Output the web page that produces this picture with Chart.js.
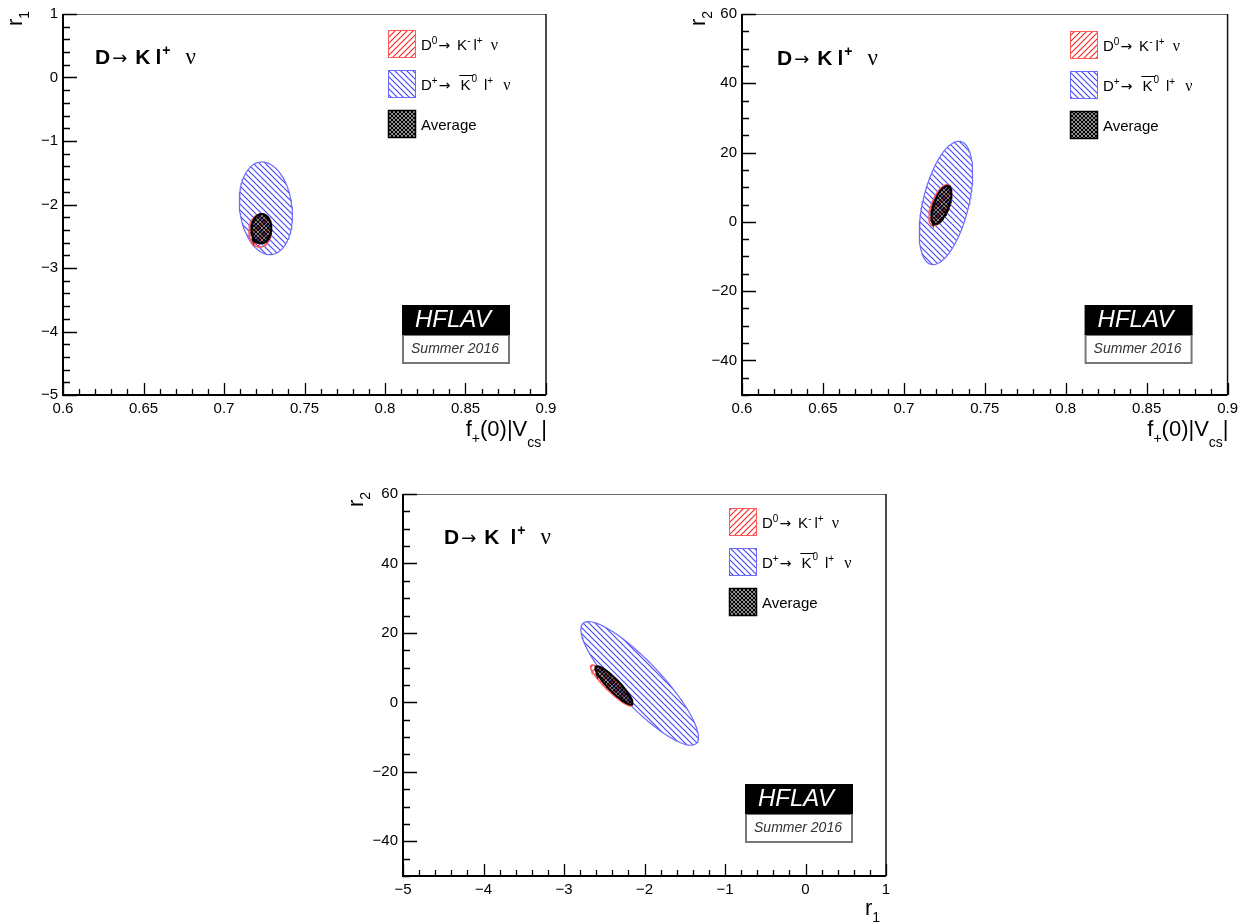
<!DOCTYPE html>
<html>
<head>
<meta charset="utf-8">
<title>D -> K l nu form factor contours</title>
<script src="https://cdn.jsdelivr.net/npm/chart.js@4.4.1/dist/chart.umd.min.js"></script>
<style>
  html, body { margin: 0; padding: 0; background: #fff; }
  body { width: 1243px; height: 922px; position: relative; overflow: hidden; }
  canvas { position: absolute; }
</style>
</head>
<body>
<canvas id="c1" width="620" height="460" style="left:0;top:0"></canvas>
<canvas id="c2" width="623" height="460" style="left:620px;top:0"></canvas>
<canvas id="c3" width="590" height="456" style="left:330px;top:466px"></canvas>
<script>
// order of the series: D0 -> K- l+ nu, D+ -> K0bar l+ nu, average
const SERIES = ["d0", "dplus", "avg"];

// contour centres and half-extents
const F_CENTRE  = [0.7225, 0.7260, 0.7232];
const F_HALF    = [0.0070, 0.0165, 0.0062];
const R1_CENTRE = [-2.41, -2.06, -2.38];
const R1_HALF   = [0.26, 0.73, 0.23];
const R2_CENTRE = [4.85, 5.45, 4.9];
const R2_HALF   = [5.9, 17.8, 5.5];

// tilt of each contour (correlation between the two variables)
const CORR_F_R1  = [0.05, -0.15, 0.05];
const CORR_F_R2  = [0.60, 0.48, 0.60];
const CORR_R1_R2 = [-0.92, -0.87, -0.90];

const F_TICKS  = [0.6, 0.65, 0.7, 0.75, 0.8, 0.85, 0.9];
const R1_TICKS = [-5, -4, -3, -2, -1, 0, 1];
const R2_TICKS = [-40, -20, 0, 20, 40, 60];

const VARS = {
  f:  { centre: F_CENTRE,  half: F_HALF },
  r1: { centre: R1_CENTRE, half: R1_HALF },
  r2: { centre: R2_CENTRE, half: R2_HALF },
};
const CORR = { "f,r1": CORR_F_R1, "f,r2": CORR_F_R2, "r1,r2": CORR_R1_R2 };

const SANS = '"Liberation Sans", Arial, Helvetica, sans-serif';
const SERIF = '"Liberation Serif", "Times New Roman", serif';
const ARROW = '"DejaVu Sans", sans-serif';

const STYLE = {
  d0:    { line: "#ff5a5a", hatch: "#ff2a2a", dir: 1,  width: 1.5, order: 2 },
  dplus: { line: "#6a6aff", hatch: "#4a4aff", dir: -1, width: 1.2, order: 3 },
  avg:   { line: "#000000", hatch: "#000000", dir: 0,  width: 2,   order: 1 },
};

function font(size, style) {
  return (style ? style + " " : "") + size + "px " + SANS;
}

function contour(cx, cy, hx, hy, rho) {
  const pts = [];
  const n = 120;
  for (let i = 0; i <= n; i++) {
    const t = (2 * Math.PI * i) / n;
    pts.push({
      x: cx + hx * Math.cos(t),
      y: cy + hy * (rho * Math.cos(t) + Math.sqrt(1 - rho * rho) * Math.sin(t)),
    });
  }
  return pts;
}

function makePattern(ctx, s) {
  const tile = document.createElement("canvas");
  const step = s.dir === 0 ? 4 : 6;
  tile.width = tile.height = step;
  const g = tile.getContext("2d");
  g.strokeStyle = s.hatch;
  g.lineWidth = s.dir === 0 ? 1.3 : 1.2;
  g.beginPath();
  if (s.dir >= 0) {
    g.moveTo(-1, step + 1); g.lineTo(step + 1, -1);
    g.moveTo(-1, 1); g.lineTo(1, -1);
    g.moveTo(step - 1, step + 1); g.lineTo(step + 1, step - 1);
  }
  if (s.dir <= 0) {
    g.moveTo(-1, -1); g.lineTo(step + 1, step + 1);
    g.moveTo(step - 1, -1); g.lineTo(step + 1, 1);
    g.moveTo(-1, step - 1); g.lineTo(1, step + 1);
  }
  g.stroke();
  return ctx.createPattern(tile, "repeat");
}

// rich text: list of segments {t, font, dy, gap, bar}
function drawRich(ctx, x, y, segs, align) {
  let w = 0;
  for (const s of segs) {
    ctx.font = s.font;
    w += (s.gap || 0) + ctx.measureText(s.t).width;
  }
  let cx = align === "right" ? x - w : align === "center" ? x - w / 2 : x;
  for (const s of segs) {
    cx += s.gap || 0;
    ctx.font = s.font;
    ctx.fillText(s.t, cx, y + (s.dy || 0));
    const sw = ctx.measureText(s.t).width;
    if (s.bar) {
      ctx.save();
      ctx.strokeStyle = ctx.fillStyle;
      ctx.lineWidth = 1;
      ctx.beginPath();
      ctx.moveTo(cx - 1, y - 14.5);
      ctx.lineTo(cx + sw + 3, y - 14.5);
      ctx.stroke();
      ctx.restore();
    }
    cx += sw;
  }
}

const LEGEND_LABELS = [
  [
    { t: "D", font: font(15) },
    { t: "0", font: font(10), dy: -6 },
    { t: "\u2192", font: "14px " + ARROW, gap: 1 },
    { t: "K", font: font(15), gap: 7 },
    { t: "-", font: font(10), dy: -6 },
    { t: "l", font: font(15), gap: 3 },
    { t: "+", font: font(10), dy: -6 },
    { t: "\u03bd", font: "16px " + SERIF, gap: 8 },
  ],
  [
    { t: "D", font: font(15) },
    { t: "+", font: font(10), dy: -6 },
    { t: "\u2192", font: "14px " + ARROW, gap: 1 },
    { t: "K", font: font(15), gap: 10, bar: true },
    { t: "0", font: font(10), dy: -8, gap: 1 },
    { t: "l", font: font(15), gap: 7 },
    { t: "+", font: font(10), dy: -6 },
    { t: "\u03bd", font: "16px " + SERIF, gap: 10 },
  ],
  [{ t: "Average", font: font(15) }],
];

function titleSegs(gapL) {
  return [
    { t: "D", font: font(21, "bold") },
    { t: "\u2192", font: "18px " + ARROW, gap: 2 },
    { t: "K", font: font(21, "bold"), gap: 8 },
    { t: "l", font: font(21, "bold"), gap: gapL },
    { t: "+", font: font(14, "bold"), dy: -9, gap: 1 },
    { t: "\u03bd", font: "23px " + SERIF, gap: 15 },
  ];
}

const F_TITLE = [
  { t: "f", font: font(22) },
  { t: "+", font: font(14), dy: 7 },
  { t: "(0)|V", font: font(22) },
  { t: "cs", font: font(14), dy: 11 },
  { t: "|", font: font(22) },
];
function rTitle(idx) {
  return [
    { t: "r", font: font(22) },
    { t: idx, font: font(14), dy: 7 },
  ];
}

const PANELS = [
  {
    canvas: "c1", xVar: "f", yVar: "r1",
    xMin: 0.6, xMax: 0.9, yMin: -5, yMax: 1,
    xTicks: F_TICKS, yTicks: R1_TICKS, xMinor: 0.01, yMinor: 0.2,
    yAxisW: 63, xAxisH: 65, padTop: 12, padRight: 74,
    title: titleSegs(5), titleX: 32, titleY: 50,
    legX: 325, legY: 16,
    xTitle: F_TITLE, xTitleRight: 1, xTitleDy: 41,
    yTitle: rTitle("1"), yTitleDx: -41, yTitleEnd: -3,
    logoRight: 37, logoBottom: 32,
  },
  {
    canvas: "c2", xVar: "f", yVar: "r2",
    xMin: 0.6, xMax: 0.9, yMin: -50, yMax: 60,
    xTicks: F_TICKS, yTicks: R2_TICKS, xMinor: 0.01, yMinor: 5,
    yAxisW: 122, xAxisH: 65, padTop: 12, padRight: 15,
    title: titleSegs(5), titleX: 35, titleY: 51,
    legX: 328, legY: 17,
    xTitle: F_TITLE, xTitleRight: 1, xTitleDy: 41,
    yTitle: rTitle("2"), yTitleDx: -37, yTitleEnd: -3,
    logoRight: 36, logoBottom: 32,
  },
  {
    canvas: "c3", xVar: "r1", yVar: "r2",
    xMin: -5, xMax: 1, yMin: -50, yMax: 60,
    xTicks: R1_TICKS, yTicks: R2_TICKS, xMinor: 0.2, yMinor: 5,
    yAxisW: 73, xAxisH: 46, padTop: 28, padRight: 34,
    title: titleSegs(11), titleX: 41, titleY: 50,
    legX: 326, legY: 14,
    xTitle: rTitle("1"), xTitleRight: -6, xTitleDy: 39,
    yTitle: rTitle("2"), yTitleDx: -40, yTitleEnd: -2,
    logoRight: 34, logoBottom: 34,
  },
];

function tickLabel(v) {
  return String(+v.toFixed(3)).replace("-", "\u2212");
}

function drawTicks(ctx, scale, major, minorStep, len, horiz, area) {
  const n = Math.round((scale.max - scale.min) / minorStep);
  ctx.beginPath();
  for (let i = 0; i <= n; i++) {
    const v = scale.min + i * minorStep;
    const isMajor = major.some((m) => Math.abs(m - v) < minorStep / 10);
    const L = isMajor ? len : len / 2;
    const p = Math.round(scale.getPixelForValue(v)) + 0.5;
    if (horiz) {
      ctx.moveTo(p, area.bottom);
      ctx.lineTo(p, area.bottom - L);
    } else {
      ctx.moveTo(area.left, p);
      ctx.lineTo(area.left + L, p);
    }
  }
  ctx.stroke();
}

function drawLogo(ctx, right, bottom) {
  const w = 106, h1 = 30, h2 = 28;
  const x = right - w, y = bottom - h1 - h2;
  ctx.fillStyle = "#fff";
  ctx.fillRect(x, y + h1, w, h2);
  ctx.strokeStyle = "#777";
  ctx.lineWidth = 2;
  ctx.strokeRect(x, y + h1, w, h2);
  ctx.fillStyle = "#000";
  ctx.fillRect(x - 1, y, w + 2, h1);
  ctx.fillStyle = "#fff";
  ctx.textAlign = "center";
  ctx.font = "italic 24px " + SANS;
  ctx.fillText("HFLAV", x + w / 2 - 3, y + 22);
  ctx.fillStyle = "#333";
  ctx.font = "italic 14px " + SANS;
  ctx.fillText("Summer 2016", x + w / 2 - 1, y + h1 + 18);
  ctx.textAlign = "left";
}

function makeDecor(panel, patterns) {
  return {
    id: "decor",
    afterDraw(chart) {
      const ctx = chart.ctx;
      const a = chart.chartArea;
      ctx.save();

      // frame: thick left / bottom axes, thin top / right
      ctx.strokeStyle = "#666";
      ctx.lineWidth = 1;
      ctx.beginPath();
      ctx.moveTo(a.left, a.top + 0.5);
      ctx.lineTo(a.right, a.top + 0.5);
      ctx.stroke();
      ctx.strokeStyle = "#111";
      ctx.lineWidth = 1.5;
      ctx.beginPath();
      ctx.moveTo(a.right, a.top);
      ctx.lineTo(a.right, a.bottom);
      ctx.stroke();
      ctx.strokeStyle = "#000";
      ctx.lineWidth = 2;
      ctx.beginPath();
      ctx.moveTo(a.left, a.top);
      ctx.lineTo(a.left, a.bottom);
      ctx.lineTo(a.right, a.bottom);
      ctx.stroke();

      ctx.lineWidth = 1.3;
      drawTicks(ctx, chart.scales.x, panel.xTicks, panel.xMinor, 12, true, a);
      drawTicks(ctx, chart.scales.y, panel.yTicks, panel.yMinor, 14, false, a);

      // legend
      ctx.textAlign = "left";
      ctx.textBaseline = "alphabetic";
      SERIES.forEach((key, i) => {
        const bx = a.left + panel.legX;
        const by = a.top + panel.legY + i * 40;
        ctx.fillStyle = patterns[key];
        ctx.fillRect(bx, by, 27, 27);
        ctx.strokeStyle = STYLE[key].line;
        ctx.lineWidth = key === "avg" ? 1.5 : 1;
        ctx.strokeRect(bx + 0.5, by + 0.5, 27, 27);
        ctx.fillStyle = "#000";
        drawRich(ctx, bx + 33, by + 20, LEGEND_LABELS[i], "left");
      });

      // decay label
      ctx.fillStyle = "#000";
      drawRich(ctx, a.left + panel.titleX, a.top + panel.titleY, panel.title, "left");

      // axis titles
      drawRich(ctx, a.right + panel.xTitleRight, a.bottom + panel.xTitleDy, panel.xTitle, "right");
      ctx.save();
      ctx.translate(a.left + panel.yTitleDx, a.top + panel.yTitleEnd);
      ctx.rotate(-Math.PI / 2);
      drawRich(ctx, 0, 0, panel.yTitle, "right");
      ctx.restore();

      drawLogo(ctx, a.right - panel.logoRight, a.bottom - panel.logoBottom);
      ctx.restore();
    },
  };
}

function setupPanel(panel) {
  const canvas = document.getElementById(panel.canvas);
  const ctx = canvas.getContext("2d");
  const patterns = {};
  SERIES.forEach((k) => (patterns[k] = makePattern(ctx, STYLE[k])));

  const xv = VARS[panel.xVar];
  const yv = VARS[panel.yVar];
  const corr = CORR[panel.xVar + "," + panel.yVar];

  const datasets = SERIES.map((key, i) => ({
    label: key,
    data: contour(xv.centre[i], yv.centre[i], xv.half[i], yv.half[i], corr[i]),
    showLine: true,
    fill: "shape",
    backgroundColor: patterns[key],
    borderColor: STYLE[key].line,
    borderWidth: STYLE[key].width,
    pointRadius: 0,
    tension: 0,
    order: STYLE[key].order,
  }));

  const tickFont = { family: SANS, size: 15 };

  new Chart(canvas, {
    type: "scatter",
    data: { datasets },
    options: {
      responsive: false,
      animation: false,
      devicePixelRatio: 1,
      events: [],
      layout: { padding: { top: panel.padTop, right: panel.padRight, left: 0, bottom: 0 } },
      plugins: { legend: { display: false }, tooltip: { enabled: false } },
      scales: {
        x: {
          type: "linear",
          min: panel.xMin,
          max: panel.xMax,
          afterBuildTicks: (s) => { s.ticks = panel.xTicks.map((v) => ({ value: v })); },
          afterFit: (s) => { s.height = panel.xAxisH; },
          ticks: { font: tickFont, color: "#000", padding: 5, autoSkip: false, maxRotation: 0, callback: tickLabel },
          grid: { display: false, drawTicks: false },
          border: { display: false },
        },
        y: {
          type: "linear",
          min: panel.yMin,
          max: panel.yMax,
          afterBuildTicks: (s) => { s.ticks = panel.yTicks.map((v) => ({ value: v })); },
          afterFit: (s) => { s.width = panel.yAxisW; },
          ticks: { font: tickFont, color: "#000", padding: 5, autoSkip: false, callback: tickLabel },
          grid: { display: false, drawTicks: false },
          border: { display: false },
        },
      },
    },
    plugins: [makeDecor(panel, patterns)],
  });
}

PANELS.forEach(setupPanel);
</script>
</body>
</html>
